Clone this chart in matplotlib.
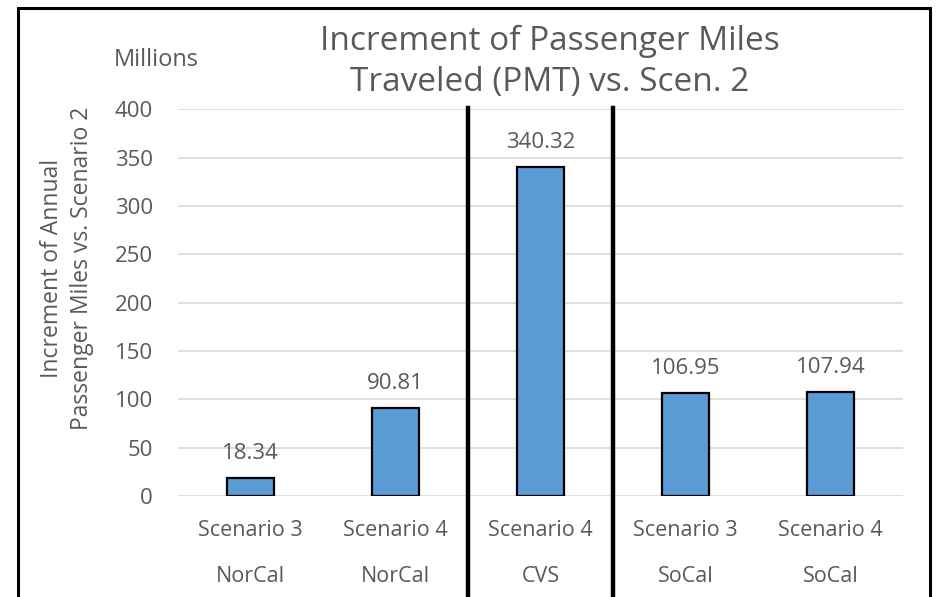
import numpy as np
import matplotlib.pyplot as plt
from matplotlib.patches import Rectangle
from matplotlib.transforms import blended_transform_factory

plt.rcParams['font.family'] = ['Open Sans', 'DejaVu Sans']

scenarios = ['Scenario 3', 'Scenario 4', 'Scenario 4', 'Scenario 3', 'Scenario 4']
regions = ['NorCal', 'NorCal', 'CVS', 'SoCal', 'SoCal']
pmt_increment = [18.34, 90.81, 340.32, 106.95, 107.94]
y_ticks = [0, 50, 100, 150, 200, 250, 300, 350, 400]

grey = '#595959'

fig = plt.figure(figsize=(9.36, 5.97), dpi=100)
ax = fig.add_axes([0.190, 0.169, 0.775, 0.648])

x = np.arange(len(pmt_increment))
ax.bar(x, pmt_increment, width=0.32, color='#5B9BD5', edgecolor='black', linewidth=1.6, zorder=3)
for xi, v in zip(x, pmt_increment):
    ax.annotate('{:.2f}'.format(v), (xi, v), xytext=(0, 10), textcoords='offset points',
                ha='center', va='bottom', fontsize=16, color=grey)

ax.set_xlim(-0.5, len(x) - 0.5)
ax.set_ylim(0, 400)
ax.set_yticks(y_ticks)
ax.yaxis.grid(True, color='#D9D9D9', linewidth=1.2, zorder=0)
ax.tick_params(axis='y', length=0, labelsize=16, labelcolor=grey, pad=18)
ax.set_xticks([])
for s in ax.spines.values():
    s.set_visible(False)

trans = blended_transform_factory(ax.transData, ax.transAxes)
for xi, sc, rg in zip(x, scenarios, regions):
    ax.text(xi, -0.088, sc, transform=trans, ha='center', va='center', fontsize=15.5, color=grey)
    ax.text(xi, -0.209, rg, transform=trans, ha='center', va='center', fontsize=15.5, color=grey)

# separators between regions
for xs in [1.5, 2.5]:
    ax.plot([xs, xs], [1.003, -0.5], transform=trans, color='black', linewidth=3.2,
            clip_on=False, zorder=4)

fig.text(67 / 936, 1 - 268 / 597, 'Increment of Annual\nPassenger Miles vs. Scenario 2',
         rotation=90, ha='center', va='center', fontsize=16.5, color=grey, linespacing=1.3)

fig.text(156 / 936, 1 - 60 / 597, 'Millions', ha='center', va='center', fontsize=17, color=grey)
fig.text(550 / 936, 1 - 62 / 597, 'Increment of Passenger Miles\nTraveled (PMT) vs. Scen. 2',
         ha='center', va='center', fontsize=24, color=grey, linespacing=1.3)

fig.patches.append(Rectangle((18 / 936, -0.1), (930 - 18) / 936, 1 - 8 / 597 + 0.1,
                             transform=fig.transFigure, fill=False, edgecolor='black',
                             linewidth=2.2, zorder=10))

fig.savefig('out.png', dpi=100)
